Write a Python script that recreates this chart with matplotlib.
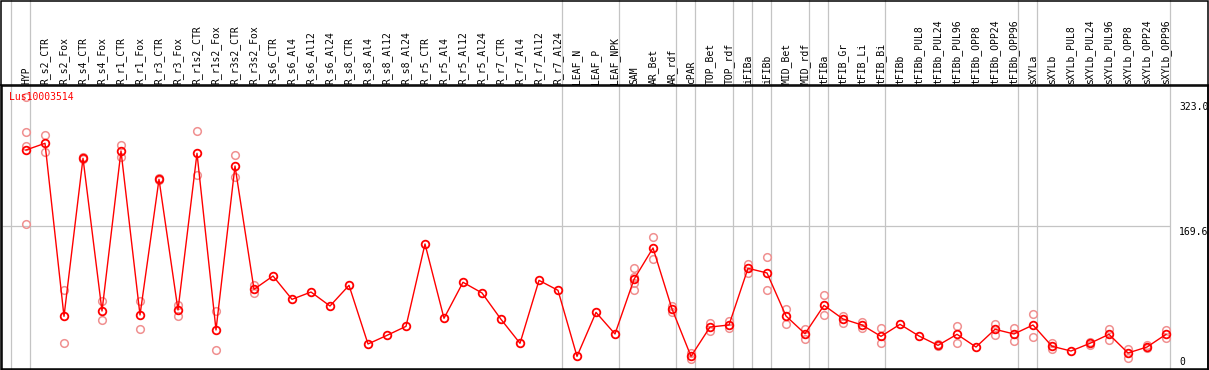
import matplotlib
matplotlib.use("Agg")
import matplotlib.pyplot as plt
import matplotlib.transforms as mtrans

# sample names (one column each)
samples = ["HYP", "R_s2_CTR", "R_s2_Fox", "R_s4_CTR", "R_s4_Fox", "R_r1_CTR", "R_r1_Fox",
           "R_r3_CTR", "R_r3_Fox", "R_r1s2_CTR", "R_r1s2_Fox", "R_r3s2_CTR", "R_r3s2_Fox",
           "R_s6_CTR", "R_s6_Al4", "R_s6_Al12", "R_s6_Al24", "R_s8_CTR", "R_s8_Al4",
           "R_s8_Al12", "R_s8_Al24", "R_r5_CTR", "R_r5_Al4", "R_r5_Al12", "R_r5_Al24",
           "R_r7_CTR", "R_r7_Al4", "R_r7_Al12", "R_r7_Al24", "LEAF_N", "LEAF_P", "LEAF_NPK",
           "SAM", "AR_Bet", "AR_rdf", "cPAR", "TOP_Bet", "TOP_rdf", "iFIBa", "iFIBb",
           "MID_Bet", "MID_rdf", "tFIBa", "tFIB_Gr", "tFIB_Li", "tFIB_Bi", "tFIBb",
           "tFIBb_PUL8", "tFIBb_PUL24", "tFIBb_PUL96", "tFIBb_OPP8", "tFIBb_OPP24",
           "tFIBb_OPP96", "sXYLa", "sXYLb", "sXYLb_PUL8", "sXYLb_PUL24", "sXYLb_PUL96",
           "sXYLb_OPP8", "sXYLb_OPP24", "sXYLb_OPP96"]

# mean expression per sample
means = [259.6, 267.5, 63.3, 249.8, 69.6, 258.4, 64.9, 225.0, 70.8, 255.7, 47.2, 240.7, 95.2,
         110.9, 83.4, 92.0, 75.5, 99.9, 30.7, 40.9, 51.5, 148.7, 61.0, 103.5, 90.9,
         59.8, 31.5, 105.8, 94.0, 16.1, 68.0, 42.5,
         107.0, 144.0, 72.0, 16.1, 50.7, 53.1, 120.0, 114.5,
         63.7, 42.8, 76.3, 60.2, 53.1, 39.7, 53.9,
         40.1, 29.1, 42.1, 27.1, 48.0, 42.5, 53.1, 28.0,
         22.4, 31.5, 42.1, 20.1, 27.1, 42.1]

# replicate values (empty where only one sample)
reps = [[321.8, 280.8, 264.3, 171.9], [277.3, 256.8], [94.4, 31.5], [251.0, 248.5],
        [81.4, 59.0], [265.5, 251.7], [81.4, 48.4], [226.0, 224.0], [76.7, 64.1],
        [281.6, 229.7], [69.6, 23.6], [253.3, 227.3], [100.3, 90.5],
        [], [], [], [], [], [], [], [], [], [], [], [], [], [], [], [], [], [], [],
        [120.4, 109.4, 103.0, 94.0], [156.9, 130.6], [75.9, 68.8], [20.0, 13.4],
        [55.1, 46.4], [57.8, 49.9], [125.5, 114.8], [133.3, 94.0],
        [72.0, 53.9], [48.0, 36.2], [88.1, 64.5], [64.1, 55.1], [56.3, 50.0],
        [49.6, 31.5], [], [], [30.5, 28.0], [51.5, 31.5], [], [54.3, 41.7],
        [49.6, 34.6], [66.1, 38.9], [32.2, 25.1], [], [33.0, 30.0], [48.4, 35.4],
        [24.4, 14.5], [29.0, 25.5], [47.2, 37.4]]

# group separators (after these column indices)
separators = [-1, 0, 28, 31, 34, 35, 37, 38, 39, 41, 42, 45, 52, 53, 60]
gene = "Lus10003514"
ytick_labels = ["323.0", "169.6", "0"]
midline = 169.6

W, H = 1209, 370
fig = plt.figure(figsize=(W / 100, H / 100), dpi=100)
mono = "DejaVu Sans Mono"

# axes spans pixel rows 86..369 and columns 1.5..1207.5
top_px, bot_px = 86, 369
ax = fig.add_axes([1.5 / W, (H - bot_px) / H, 1206 / W, (bot_px - top_px) / H])
ax.set_xlim((1.5 - 26) / 19, (1207.5 - 26) / 19)
ax.set_ylim((370 - bot_px) / 0.8475, (370 - top_px) / 0.8475)
ax.set_xticks([])
ax.set_yticks([])
for s in ax.spines.values():
    s.set_linewidth(1.1)
    s.set_color("black")

off = 4 / 19
hfrac = (bot_px - 0) / (bot_px - top_px)
for k in separators:
    ax.axvline(k + off, ymin=0, ymax=hfrac, color="#c4c4c4", lw=0.9, clip_on=False, zorder=1)
ax.hlines(midline, ax.get_xlim()[0], separators[-1] + off, color="#c4c4c4", lw=0.9, zorder=1)

# replicates
for i, r in enumerate(reps):
    if r:
        ax.plot([i] * len(r), r, "o", ms=5.5, mfc="none", mec="#f09090", mew=1.1, zorder=2)

x = list(range(len(samples)))
ax.plot(x, means, "-", color="red", lw=1.0, zorder=3)
ax.plot(x, means, "o", ms=5.5, mfc="none", mec="red", mew=1.3, zorder=4)

# header labels
trans = mtrans.blended_transform_factory(ax.transData, ax.transAxes)
ylab = (bot_px - 83.5) / (bot_px - top_px)
for i, name in enumerate(samples):
    ax.text(i, ylab, name, rotation=90, ha="center", va="bottom",
            fontsize=7, family=mono, transform=trans)

# header rule and outer frame
fig.add_artist(plt.Line2D([0, 1], [(H - 85) / H] * 2, color="black", lw=1.1))
fig.add_artist(plt.Rectangle((0.8 / W, 0.5 / H), (W - 1.6) / W, (H - 1.0) / H, fill=False,
                             ec="black", lw=1.1))

ax.text((9 - 1.5) / 1206, (bot_px - 97) / (bot_px - top_px), gene, color="red", fontsize=7,
        family=mono, va="center", ha="left", transform=ax.transAxes)

for lab, ypx in zip(ytick_labels, [107, 232, 362]):
    ax.text((1179 - 1.5) / 1206, (bot_px - ypx) / (bot_px - top_px), lab, fontsize=7,
            family=mono, va="center", ha="left", transform=ax.transAxes)

fig.savefig("out.png", dpi=100)
